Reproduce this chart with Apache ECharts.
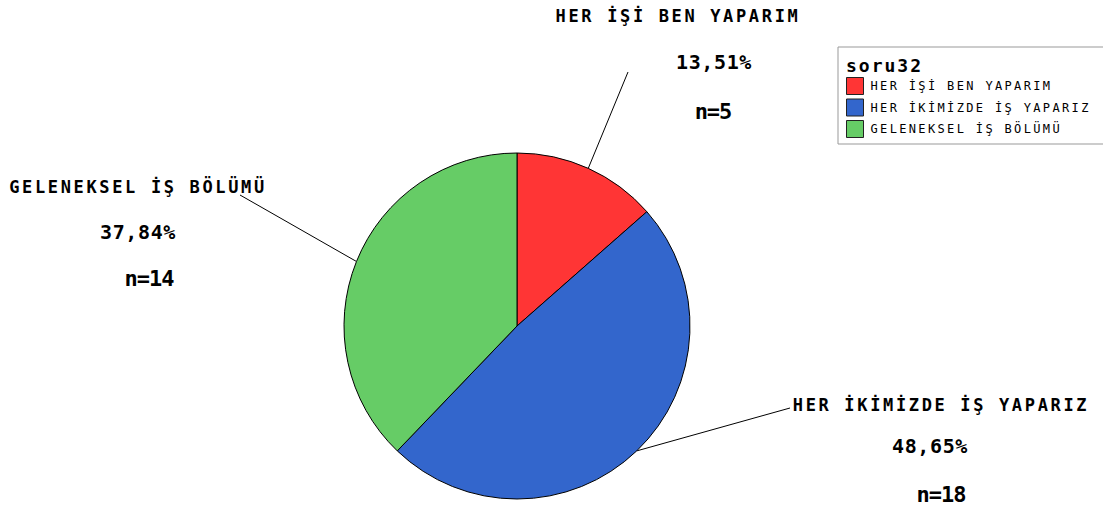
<!DOCTYPE html>
<html>
<head>
<meta charset="utf-8">
<script src="https://cdn.jsdelivr.net/npm/echarts@6/dist/echarts.min.js"></script>
<style>
  html, body { margin: 0; padding: 0; background: #fff; }
  #chart { width: 1103px; height: 508px; }
  /* spaced-out monospace lettering, per text size */
  #chart text[style*="17px"] { letter-spacing: 2.65px; }
  #chart text[style*="20px"] { letter-spacing: 0.6px; }
  #chart text[style*="22px"] { letter-spacing: -1px; }
  #chart text[style*="12px"] { letter-spacing: 2.35px; }
  #chart text[style*="18px"] { letter-spacing: 2px; }
</style>
</head>
<body>
<div id="chart"></div>
<script>
// soru32 answer categories and counts
const categories = ['HER İŞİ BEN YAPARIM', 'HER İKİMİZDE İŞ YAPARIZ', 'GELENEKSEL İŞ BÖLÜMÜ'];
const counts = [5, 18, 14];
const colors = ['#FF3535', '#3366CC', '#66CC66'];
const legendTitle = 'soru32';

const FONT = '"DejaVu Sans Mono", "Liberation Mono", monospace';
const total = counts.reduce((a, b) => a + b, 0);
const pctText = v => (v / total * 100).toFixed(2).replace('.', ',') + '%';

const CENTER = [517, 326];
const RADIUS = 173;

// label block placement: centre x, top y, line heights, horizontal shift of the
// percent and count lines, and where the leader line ends
const labelPlacement = [
  { x: 678, top: -7.5, lh: [46, 46, 53], pctShift: 36, nShift: 35, end: [628, 72] },
  { x: 941, top: 387, lh: [36, 46, 50], pctShift: -11, nShift: 0, end: [790, 408] },
  { x: 138, top: 165, lh: [44, 46, 46], pctShift: 0, nShift: 11, end: [240, 195] }
];

function shiftPad(d) {
  return d >= 0 ? [0, 0, 0, 2 * d] : [0, -2 * d, 0, 0];
}

const rich = {};
labelPlacement.forEach((p, i) => {
  const base = { fontFamily: FONT, fontWeight: 'bold', color: '#000' };
  rich['name' + i] = Object.assign({ fontSize: 17, lineHeight: p.lh[0] }, base);
  rich['pct' + i] = Object.assign({ fontSize: 20, lineHeight: p.lh[1], padding: shiftPad(p.pctShift) }, base);
  rich['n' + i] = Object.assign({ fontSize: 22, lineHeight: p.lh[2], padding: shiftPad(p.nShift) }, base);
});

// point on the rim at the middle of slice i
function rimPoint(i) {
  let before = 0;
  for (let k = 0; k < i; k++) before += counts[k];
  const frac = (before + counts[i] / 2) / total;
  const ang = (90 - frac * 360) * Math.PI / 180;
  return [CENTER[0] + RADIUS * Math.cos(ang), CENTER[1] - RADIUS * Math.sin(ang)];
}

const chart = echarts.init(document.getElementById('chart'), null, { renderer: 'svg' });

chart.setOption({
  animation: false,
  backgroundColor: '#fff',
  title: {
    text: legendTitle,
    left: 846,
    top: 56,
    padding: 0,
    textStyle: { fontFamily: FONT, fontWeight: 'bold', fontSize: 18, color: '#000' }
  },
  legend: {
    orient: 'vertical',
    left: 838,
    top: 47,
    padding: [30, 80, 6, 8],
    itemWidth: 17,
    itemHeight: 17,
    itemGap: 3.5,
    icon: 'rect',
    borderColor: '#999',
    borderWidth: 1,
    backgroundColor: '#fff',
    selectedMode: false,
    itemStyle: { borderColor: '#222', borderWidth: 1 },
    textStyle: { fontFamily: FONT, fontSize: 12, color: '#000', padding: [0, 0, 0, 2] },
    data: categories
  },
  series: [{
    type: 'pie',
    center: CENTER,
    radius: RADIUS,
    startAngle: 90,
    clockwise: true,
    avoidLabelOverlap: false,
    emphasis: { disabled: true },
    itemStyle: { borderColor: '#000', borderWidth: 1 },
    label: {
      show: true,
      position: 'outside',
      formatter: p => '{name' + p.dataIndex + '|' + p.name + '}\n' +
        '{pct' + p.dataIndex + '|' + pctText(p.value) + '}\n' +
        '{n' + p.dataIndex + '|n=' + p.value + '}',
      rich: rich
    },
    labelLine: { show: true, lineStyle: { color: '#000', width: 1 } },
    labelLayout: params => {
      const p = labelPlacement[params.dataIndex];
      const rim = rimPoint(params.dataIndex);
      return {
        x: p.x,
        y: p.top,
        align: 'center',
        verticalAlign: 'top',
        labelLinePoints: [rim, p.end, p.end]
      };
    },
    data: categories.map((c, i) => ({ name: c, value: counts[i], itemStyle: { color: colors[i] } }))
  }]
});
</script>
</body>
</html>
